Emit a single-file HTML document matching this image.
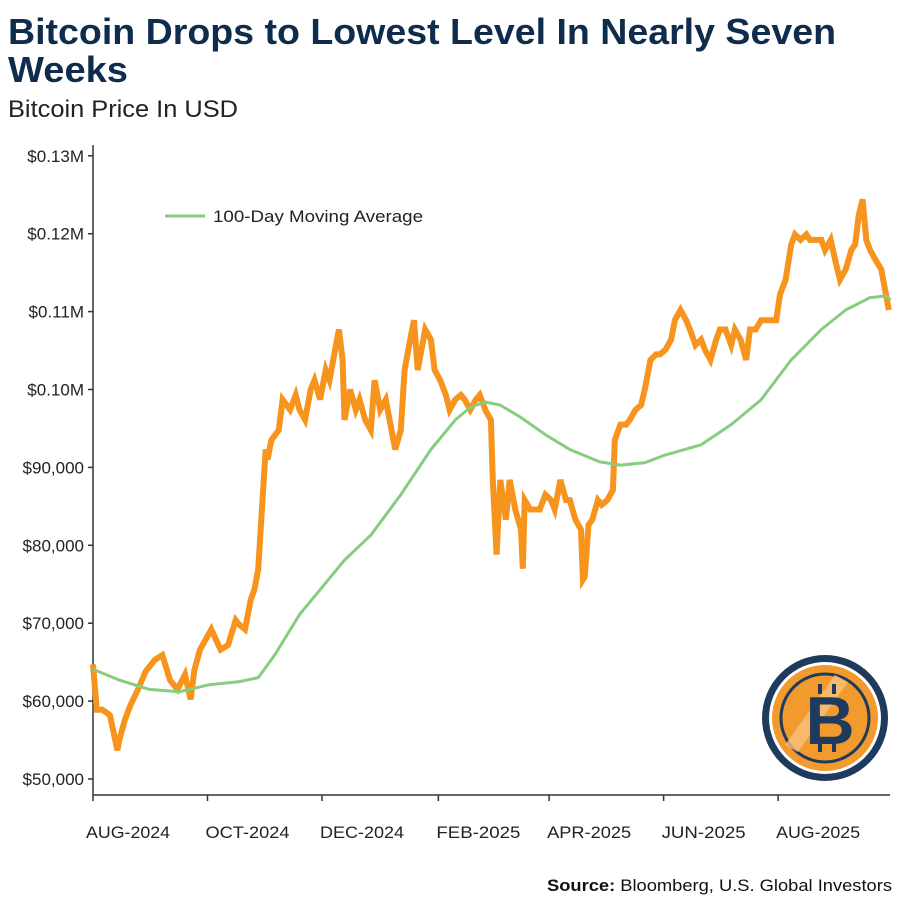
<!DOCTYPE html>
<html><head><meta charset="utf-8"><style>
html,body{margin:0;padding:0;background:#fff;}
svg{display:block;font-family:"Liberation Sans",sans-serif;}
</style></head><body>
<svg id="chart" width="900" height="900" viewBox="0 0 900 900" xmlns="http://www.w3.org/2000/svg">
<text x="8" y="44" font-size="36" font-weight="bold" fill="#0f2c4c" textLength="828" lengthAdjust="spacingAndGlyphs">Bitcoin Drops to Lowest Level In Nearly Seven</text>
<text x="8" y="82" font-size="36" font-weight="bold" fill="#0f2c4c" textLength="120" lengthAdjust="spacingAndGlyphs">Weeks</text>
<text x="8" y="117" font-size="24" fill="#222" textLength="230" lengthAdjust="spacingAndGlyphs">Bitcoin Price In USD</text>
<g id="axes"></g>
<g id="series"></g>
<g>
<line x1="165" y1="216" x2="205" y2="216" stroke="#86cd7f" stroke-width="3"/>
<text x="213" y="222" font-size="17" fill="#222" textLength="210" lengthAdjust="spacingAndGlyphs">100-Day Moving Average</text>
</g>
<g>
<circle cx="825" cy="718" r="63" fill="#1e3a5c"/>
<circle cx="825" cy="718" r="56" fill="#fff"/>
<circle cx="825" cy="718" r="53" fill="#f29a2e"/>
<circle cx="825" cy="718" r="44" fill="none" stroke="#1e3a5c" stroke-width="3"/>
<path d="M785 745 L835 675 L848 682 L798 752 Z" fill="#f9c07a" opacity="0.8"/>
<text x="830" y="744" font-size="68" font-weight="bold" fill="#1e3a5c" text-anchor="middle">B</text>
<line x1="820" y1="684" x2="820" y2="694" stroke="#1e3a5c" stroke-width="4"/>
<line x1="834" y1="684" x2="834" y2="694" stroke="#1e3a5c" stroke-width="4"/>
<line x1="820" y1="742" x2="820" y2="752" stroke="#1e3a5c" stroke-width="4"/>
<line x1="834" y1="742" x2="834" y2="752" stroke="#1e3a5c" stroke-width="4"/>
</g>
<text x="892" y="891" font-size="17" fill="#111" text-anchor="end" textLength="345" lengthAdjust="spacingAndGlyphs"><tspan font-weight="bold">Source:</tspan> Bloomberg, U.S. Global Investors</text>
</svg>
<script>
const priceDays = [0,2,5,9,13,14,17,20,24,28,33,37,41,45,49,52,54,57,60,63,68,72,76,78,81,84,86,88,90,92,93,95,99,101,105,108,110,113,116,118,121,124,126,129,131,133,134,137,140,142,145,148,150,153,156,158,161,164,166,169,171,173,177,180,182,185,188,190,193,196,198,201,204,206,209,212,213,215,217,220,222,225,228,229,230,233,236,238,241,244,246,249,252,254,257,260,261,262,264,266,269,271,274,277,278,281,284,286,289,292,294,297,300,302,305,308,310,313,316,318,321,324,326,329,332,334,337,340,342,345,348,350,353,356,358,361,364,366,369,372,374,377,380,382,385,388,390,393,396,398,401,404,406,408,410,412,414,417,420,422,424];
const priceValues = [64.7,58.9,58.9,58.2,53.7,55.0,57.6,59.5,61.5,63.8,65.3,65.9,62.7,61.5,63.4,60.2,64.0,66.6,67.9,69.2,66.6,67.2,70.4,69.8,69.2,73.0,74.3,76.9,84.6,92.3,91.0,93.5,94.8,98.7,97.4,99.3,97.4,96.1,100.0,101.2,98.7,102.5,101.2,105.1,107.7,103.8,96.1,100.0,97.4,98.7,96.1,94.8,101.2,97.4,98.7,96.1,92.3,94.8,102.5,106.4,108.9,102.5,107.7,106.4,102.5,101.2,99.3,97.4,98.7,99.3,98.7,97.4,98.7,99.3,97.4,96.1,88.4,78.8,88.4,83.3,88.4,84.6,82.0,77.0,85.8,84.6,84.6,84.6,86.5,85.8,84.6,88.4,85.8,85.8,83.3,82.0,75.6,76.0,82.6,83.3,85.8,85.2,85.8,87.1,93.5,95.5,95.5,96.1,97.4,98.0,100.0,103.8,104.5,104.5,105.1,106.4,108.9,110.2,108.9,107.7,105.7,106.4,105.1,103.8,106.4,107.7,107.7,105.7,107.7,106.4,103.8,107.7,107.7,108.9,108.9,108.9,108.9,112.2,114.1,118.6,119.9,119.2,119.9,119.2,119.2,119.2,117.9,119.2,116.0,114.1,115.4,117.9,118.6,122.4,124.4,119.2,117.9,116.6,115.4,112.8,110.2];
const maDays = [0,14,30,46,62,78,88,97,110,121,134,148,164,180,193,201,209,217,228,241,254,270,281,294,305,324,340,356,372,388,401,414,422,425];
const maValues = [64.1,62.7,61.5,61.2,62.1,62.5,63.0,66.0,71.1,74.3,78.1,81.3,86.5,92.3,96.1,97.7,98.4,98.0,96.4,94.2,92.3,90.7,90.3,90.6,91.6,92.9,95.5,98.7,103.8,107.7,110.2,111.8,112.0,111.5];
const yTicks = [50,60,70,80,90,100,110,120,130];
const yTickLabels = ["$50,000","$60,000","$70,000","$80,000","$90,000","$0.10M","$0.11M","$0.12M","$0.13M"];
const xTickDays = [0,61,122,184,243,304,365];
const xTickLabels = ["AUG-2024","OCT-2024","DEC-2024","FEB-2025","APR-2025","JUN-2025","AUG-2025"];

const NS = "http://www.w3.org/2000/svg";
const X0 = 93, XPD = 1.877, Y50 = 779, YPK = 7.79;
const xs = d => X0 + d * XPD;
const ys = v => Y50 - (v - 50) * YPK;
function mk(tag, attrs, parent){const e=document.createElementNS(NS,tag);for(const k in attrs)e.setAttribute(k,attrs[k]);parent.appendChild(e);return e;}
const axes = document.getElementById('axes'), series = document.getElementById('series');

const yAxis = mk('line',{x1:X0,y1:145,x2:X0,y2:795,stroke:'#333','stroke-width':1.5},axes);


const xAxis = mk('line',{x1:X0,y1:795,x2:890,y2:795,stroke:'#333','stroke-width':1.5},axes);



yTicks.forEach((v,i)=>{
  const t = mk('line',{x1:X0-5,y1:ys(v),x2:X0,y2:ys(v),stroke:'#333','stroke-width':1.5},axes);
  
  
  const l = mk('text',{x:84,y:ys(v)+6,'font-size':17,'text-anchor':'end',fill:'#222'},axes);
  
  
  l.textContent = yTickLabels[i];
});
xTickDays.forEach((d,i)=>{
  const t = mk('line',{x1:xs(d),y1:795,x2:xs(d),y2:801,stroke:'#333','stroke-width':1.5},axes);
  
  
  const l = mk('text',{x:xs(d)+(i===0?35:40),y:838,'font-size':17,'text-anchor':'middle',fill:'#222',textLength:84,lengthAdjust:'spacingAndGlyphs'},axes);
  
  
  l.textContent = xTickLabels[i];
});

const pricePath = mk('path',{d:priceDays.map((d,i)=>(i?'L':'M')+xs(d).toFixed(1)+' '+ys(priceValues[i]).toFixed(1)).join(' '),fill:'none',stroke:'#f7941d','stroke-width':6,'stroke-linejoin':'miter'},series);


const maPath = mk('path',{d:maDays.map((d,i)=>(i?'L':'M')+xs(d).toFixed(1)+' '+ys(maValues[i]).toFixed(1)).join(' '),fill:'none',stroke:'#86cd7f','stroke-width':3,'stroke-linejoin':'round'},series);


</script>
</body></html>
